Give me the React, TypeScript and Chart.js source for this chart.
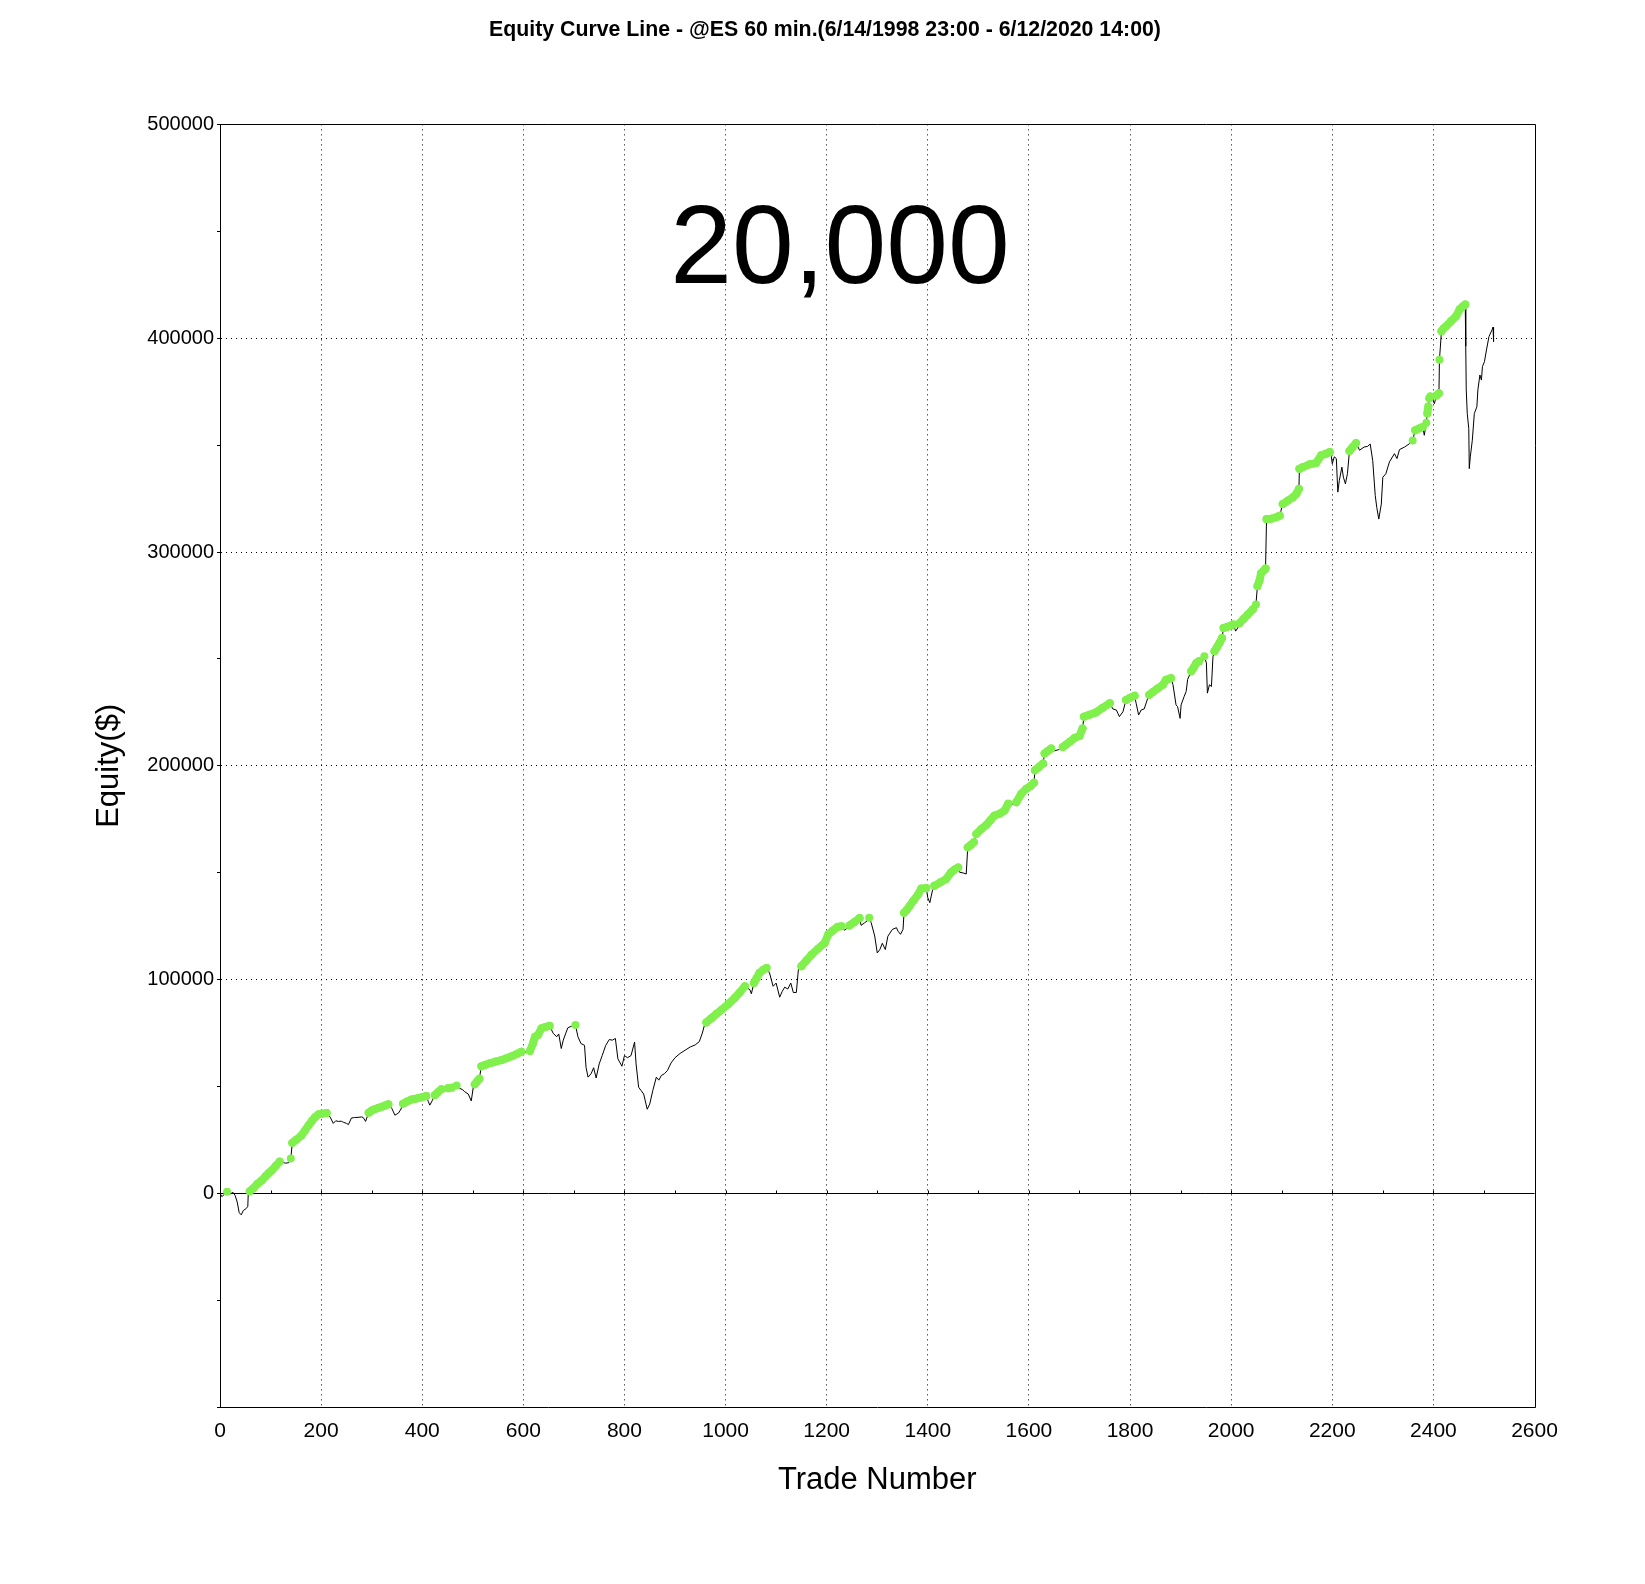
import React, { useEffect, useRef } from "react";
import { Chart, registerables } from "chart.js";

Chart.register(...registerables);

const trades = [
  0, 4, 10, 14, 20, 26, 30, 34, 38, 42, 46, 52, 55, 56,
  59, 66, 74, 82, 90, 96, 102, 110, 118, 124, 130, 136, 140, 143,
  150, 161, 168, 175, 182, 188, 195, 201, 211,
  218, 224, 229, 234, 240, 244, 250, 254, 260, 266, 273, 280, 283, 288,
  294, 300, 307, 313, 320, 327, 333, 340, 346, 350, 353, 358,
  362, 370, 379, 385, 392, 400, 408, 412, 415, 420, 425, 431, 438, 445,
  451, 458, 462, 468, 474, 480, 484, 491, 497, 501, 504, 508, 513, 517,
  525, 535, 545, 557, 567, 577, 587, 596, 603, 613, 619, 623, 629, 636, 644, 652,
  659, 666, 670, 675, 679, 684, 688, 695, 703,
  708, 714, 721, 724, 728, 734, 739, 744, 750, 756, 763, 770, 776, 782, 787, 795,
  800, 806, 813, 820, 823, 828, 833, 838, 845, 850, 856, 863, 868, 873, 879,
  885, 892, 900, 910, 920, 930, 940, 948, 954, 958,
  962, 972, 982, 992, 1005, 1018, 1028, 1038, 1048, 1051,
  1056, 1061, 1067, 1074, 1081,
  1087, 1094, 1100, 1107, 1112, 1117, 1123, 1129, 1134, 1140, 1144,
  1150, 1160, 1170, 1183, 1196, 1203, 1212, 1222, 1229, 1235, 1240,
  1245, 1255, 1265, 1268, 1275, 1280, 1284,
  1288, 1295, 1300, 1305, 1310, 1316, 1321, 1330, 1338, 1341, 1346, 1351,
  1353, 1358, 1364, 1371, 1381, 1387, 1397, 1400, 1404, 1409,
  1413, 1425, 1436, 1446, 1453, 1460, 1463, 1470, 1476,
  1479, 1485, 1491, 1496, 1506, 1516, 1524, 1532, 1542, 1552, 1559, 1565,
  1575, 1585, 1595, 1603, 1610, 1612, 1620, 1628, 1631, 1638, 1644, 1650, 1658,
  1667, 1674, 1681, 1690, 1700, 1706, 1709, 1720, 1733, 1745, 1760,
  1766, 1773, 1776, 1779, 1786, 1792, 1800, 1809,
  1812, 1817, 1822, 1828, 1835, 1838, 1845, 1855, 1865, 1871, 1881,
  1885, 1891, 1894, 1899, 1901, 1907, 1911, 1914,
  1921, 1926, 1931, 1936, 1941, 1947, 1951, 1953, 1957, 1961, 1964,
  1967, 1972, 1977, 1982, 1985, 1993, 2000, 2004, 2009, 2013,
  2016, 2025, 2033, 2043, 2046, 2049, 2052, 2056, 2059, 2066, 2068,
  2070, 2079, 2089, 2096, 2102, 2112, 2122, 2129, 2134,
  2135, 2142, 2155, 2168, 2178, 2188, 2195,
  2198, 2200, 2204, 2208, 2211, 2214, 2219, 2222, 2226, 2230,
  2234, 2240, 2247, 2254, 2263, 2270, 2275, 2280, 2285, 2288, 2292, 2297,
  2300, 2306, 2313, 2323, 2328, 2333, 2343, 2353,
  2359, 2364, 2372, 2379, 2382, 2386, 2388, 2390, 2392, 2394, 2399, 2402,
  2406, 2411, 2412, 2416, 2420, 2425, 2435, 2445, 2452, 2458, 2463,
  2464, 2465, 2467, 2470, 2471, 2473, 2477, 2481, 2486, 2488, 2492, 2495,
  2497, 2501, 2505, 2510, 2516, 2518, 2519,
];

// closed equity in $ at each of those trades
const equity = [
  0, -1500, 0, 800, -200, 500, -1000, -4000, -9000, -10000, -8000, -7000, -6000, 500,
  1000, 2500, 4500, 6000, 8000, 9500, 10700, 12800, 14900, 14500, 14200, 14400, 16300, 23700,
  25000, 27100, 29500, 31800, 34000, 35700, 37000, 37300, 37600,
  35700, 32800, 34000, 33700, 33800, 33300, 32800, 32200, 35300, 35500, 35600, 35800, 35600, 33700,
  37800, 38800, 39500, 40000, 40600, 41200, 41700, 39700, 36600, 37200, 37600, 39500,
  42000, 43000, 44000, 44200, 44600, 45100, 45600, 43000, 41300, 43500, 46000, 47300, 48800, 48600,
  49200, 49500, 49300, 50500, 49200, 48500, 47600, 46500, 43300, 49700, 51100, 52300, 53700, 59500,
  60200, 61000, 61700, 62400, 63300, 64200, 65200, 66300, 66100, 66600, 70100, 73300, 74100, 77300, 77900, 78400,
  74900, 73300, 74600, 67800, 71700, 75000, 77500, 78200, 78800,
  73300, 70100, 69300, 59000, 54400, 56000, 58800, 54000, 60600, 64500, 69300, 72000, 71700, 72500, 63000, 59500,
  64500, 63500, 64500, 70800, 60600, 49700, 48100, 46500, 39400, 41800, 48100, 54400, 53000, 55200, 56000,
  57500, 61000, 63500, 65500, 67000, 68500, 69500, 71000, 75000, 78500,
  80000, 82000, 84000, 85900, 88500, 91400, 94000, 96900, 95300, 93400,
  98400, 100500, 103100, 104500, 105500,
  103100, 96900, 98400, 91800, 94500, 96500, 95600, 98400, 94000, 94000, 104700,
  106300, 109000, 111700, 114500, 117200, 121100, 123000, 124700, 125000, 123100, 124000,
  125300, 127000, 128800, 125400, 126600, 127500, 129000,
  126600, 120400, 112500, 114000, 117000, 114100, 120300, 123500, 124300, 122700, 121200, 123500,
  131300, 132500, 134400, 136800, 139900, 142600, 142800, 138300, 136000, 141500,
  143900, 145500, 147000, 150200, 151500, 152500, 150200, 149900, 149400,
  161900, 163000, 164300, 168100, 170500, 172400, 174600, 176800, 177600, 179100, 182300, 181800,
  183000, 187000, 189300, 190500, 192100, 197900, 199500, 201100, 205800, 207000, 208100, 207000, 207500,
  208800, 210000, 211300, 213000, 214000, 217500, 223000, 223900, 225000, 227000, 229300,
  226600, 226100, 224500, 223000, 225300, 230800, 231800, 232800,
  229300, 223800, 226100, 226600, 231600, 233200, 234500, 236300, 237900, 240200, 241000,
  237900, 228500, 227700, 222200, 228500, 232400, 234800, 240500,
  244200, 246000, 248100, 248900, 247500, 251200, 248100, 234000, 237900, 237100, 251000,
  253600, 255500, 257500, 259800, 264500, 265000, 265600, 266100, 263000, 264500,
  266600, 268800, 270800, 273200, 271600, 275500, 284100, 286500, 290100, 291700, 292300,
  315400, 315600, 316200, 317000, 322400, 324000, 325500, 327200, 329500,
  338900, 339700, 341000, 341600, 345200, 346000, 346800,
  344800, 341300, 344500, 343700, 328000, 333500, 339700, 335000, 331900, 336600,
  347200, 349000, 351000, 347600, 349100, 349400, 350500, 342800, 326400, 320900, 315400, 322400,
  335000, 336600, 342100, 346000, 343700, 347900, 349100, 350700,
  352200, 356900, 357800, 358500, 354600, 360500, 364800, 368000, 371900, 372700, 371100, 369400,
  373200, 374300, 389900, 403300, 404500, 405600, 408000, 410300, 413500, 414800, 415800,
  396200, 375800, 364800, 357700, 339000, 344500, 352300, 364800, 367900, 375800, 382800, 380400,
  386700, 389000, 394500, 400800, 403900, 405200, 398400,
];

const chartTitle = "Equity Curve Line - @ES 60 min.(6/14/1998 23:00 - 6/12/2020 14:00)";
const bigLabel = "20,000";
const FONT = '"Liberation Sans", Arial, sans-serif';
const GREEN = "#80f04c";

// new equity highs get the green marker
let peak = 0;
const highs = equity.map((v, i) => {
  if (v > peak) {
    peak = v;
    return { x: trades[i], y: v };
  }
  return { x: trades[i], y: null };
});

const framePlugin = {
  id: "frame",
  beforeDatasetsDraw(chart: any) {
    const { ctx, chartArea, scales } = chart;
    const y0 = Math.round(scales.y.getPixelForValue(0)) + 0.5;
    ctx.save();
    ctx.strokeStyle = "#000";
    ctx.lineWidth = 1;
    ctx.beginPath();
    ctx.moveTo(chartArea.left, y0);
    ctx.lineTo(chartArea.right, y0);
    for (const t of scales.x.ticks) {
      if (t.value <= 0 || t.value >= 2600) continue;
      const x = Math.round(scales.x.getPixelForValue(t.value)) + 0.5;
      ctx.moveTo(x, y0);
      ctx.lineTo(x, y0 - 3);
    }
    // top and right edges of the frame
    const r = Math.round(chartArea.right) + 0.5;
    const top = Math.round(chartArea.top) + 0.5;
    ctx.moveTo(chartArea.left, top);
    ctx.lineTo(r, top);
    ctx.lineTo(r, chartArea.bottom + 0.5);
    ctx.stroke();
    ctx.restore();
  },
  afterDraw(chart: any) {
    const { ctx } = chart;
    ctx.save();
    ctx.fillStyle = "#000";
    ctx.font = `111px ${FONT}`;
    ctx.textAlign = "center";
    ctx.textBaseline = "alphabetic";
    ctx.fillText(bigLabel, 840, 283);
    ctx.restore();
  },
};

const EquityCurve: React.FC = () => {
  const canvasRef = useRef<HTMLCanvasElement | null>(null);

  useEffect(() => {
    document.body.style.margin = "0";
    if (!canvasRef.current) return;

    const chart = new Chart(canvasRef.current, {
      type: "line",
      data: {
        datasets: [
          {
            label: "New high",
            data: highs as any,
            borderColor: GREEN,
            backgroundColor: GREEN,
            borderWidth: 8,
            borderCapStyle: "round",
            borderJoinStyle: "round",
            pointRadius: 4,
            pointBorderWidth: 0,
            pointBackgroundColor: GREEN,
            spanGaps: false,
            segment: {
              // a one-trade jump shows as two dots, not a green bar
              borderColor: (c: any) => {
                const dx = Math.abs(c.p1.x - c.p0.x);
                const dy = Math.abs(c.p1.y - c.p0.y);
                return dy > 8 && dy > 3 * dx ? "rgba(0,0,0,0)" : undefined;
              },
            },
          },
          {
            label: "Equity",
            data: trades.map((t, i) => ({ x: t, y: equity[i] })),
            borderColor: "#000",
            borderWidth: 1,
            pointRadius: 0,
            tension: 0,
          },
        ],
      },
      options: {
        responsive: false,
        devicePixelRatio: 1,
        animation: false,
        layout: { padding: { left: 5, right: 0, top: 0, bottom: 0 } },
        plugins: {
          legend: { display: false },
          tooltip: { enabled: false },
          title: {
            display: true,
            text: chartTitle,
            color: "#000",
            font: { family: FONT, size: 21.3, weight: "bold" },
            padding: { top: 17.2, bottom: 81.6 },
          },
        },
        scales: {
          x: {
            type: "linear",
            min: 0,
            max: 2600,
            afterFit: (s: any) => {
              s.height = 176.7;
            },
            ticks: {
              stepSize: 100,
              autoSkip: false,
              maxRotation: 0,
              padding: 11,
              color: "#000",
              font: { family: FONT, size: 21 },
              callback: (v: any) => (Number(v) % 200 === 0 ? String(v) : ""),
            },
            grid: {
              drawTicks: false,
              lineWidth: 1,
              color: (c: any) => {
                const v = c.tick ? c.tick.value : 0;
                return v % 200 === 0 && v > 0 && v < 2600 ? "#000" : "rgba(0,0,0,0)";
              },
            },
            border: { display: true, color: "#000", width: 1, dash: [1, 4] },
            title: {
              display: true,
              text: "Trade Number",
              color: "#000",
              font: { family: FONT, size: 31 },
              padding: { top: 0, bottom: 84.5 },
            },
          },
          y: {
            type: "linear",
            min: -100000,
            max: 500000,
            afterFit: (s: any) => {
              s.width = 215;
            },
            ticks: {
              stepSize: 50000,
              autoSkip: false,
              padding: 3,
              color: "#000",
              font: { family: FONT, size: 20 },
              callback: (v: any) => {
                const n = Number(v);
                return n % 100000 === 0 && n > -100000 ? String(n) : "";
              },
            },
            grid: {
              drawTicks: true,
              tickLength: 3,
              tickColor: "#000",
              lineWidth: 1,
              color: (c: any) => {
                const v = c.tick ? c.tick.value : 0;
                return v % 100000 === 0 && v > -100000 && v < 500000 ? "#000" : "rgba(0,0,0,0)";
              },
            },
            border: { display: true, color: "#000", width: 1, dash: [1, 4] },
            title: {
              display: true,
              text: "Equity($)",
              color: "#000",
              font: { family: FONT, size: 31 },
              padding: { top: 85.4, bottom: 0 },
            },
          },
          yPad: {
            type: "linear",
            position: "right",
            display: true,
            afterFit: (s: any) => {
              s.width = 110.5;
            },
            ticks: { display: false },
            grid: { display: false, drawTicks: false },
            border: { display: false },
          },
        },
      },
      plugins: [framePlugin],
    });

    return () => {
      chart.destroy();
    };
  }, []);

  return (
    <div style={{ width: 1645, height: 1584, background: "#fff" }}>
      <canvas ref={canvasRef} width={1645} height={1584} style={{ display: "block" }} />
    </div>
  );
};

export default function App() {
  return <EquityCurve />;
}
